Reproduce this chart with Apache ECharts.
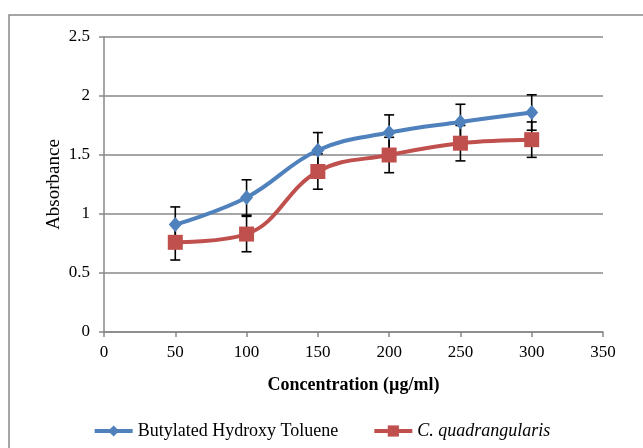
<!DOCTYPE html>
<html>
<head>
<meta charset="utf-8">
<script src="https://cdn.jsdelivr.net/npm/echarts@6/dist/echarts.min.js"></script>
<style>
  html, body { margin: 0; padding: 0; background: #fff; }
  #chart { width: 643px; height: 448px; }
</style>
</head>
<body>
<div id="chart"></div>
<script>
// concentrations (µg/ml)
const concentrations = [50, 100, 150, 200, 250, 300];
// absorbance values
const bhtValues = [0.91, 1.14, 1.54, 1.69, 1.78, 1.86];
const cqValues = [0.76, 0.83, 1.36, 1.50, 1.60, 1.63];
// error bar half-widths
const bhtErrors = [0.15, 0.15, 0.15, 0.15, 0.15, 0.15];
const cqErrors = [0.15, 0.15, 0.15, 0.15, 0.15, 0.15];

const seriesNames = ['Butylated Hydroxy Toluene', 'C. quadrangularis'];

const chart = echarts.init(document.getElementById('chart'));

function toPoints(vals) {
    return concentrations.map((c, i) => [c, vals[i]]);
}
function toErrors(vals, errs) {
    return concentrations.map((c, i) => [c, vals[i] - errs[i], vals[i] + errs[i]]);
}

function errorBar(params, api) {
    const low = api.coord([api.value(0), api.value(1)]);
    const high = api.coord([api.value(0), api.value(2)]);
    const w = 5;
    const style = { stroke: '#000', lineWidth: 1.6 };
    return {
        type: 'group',
        children: [
            { type: 'line', shape: { x1: low[0], y1: low[1], x2: high[0], y2: high[1] }, style },
            { type: 'line', shape: { x1: low[0] - w, y1: low[1], x2: low[0] + w, y2: low[1] }, style },
            { type: 'line', shape: { x1: high[0] - w, y1: high[1], x2: high[0] + w, y2: high[1] }, style }
        ]
    };
}

const font = '"Liberation Serif", "Times New Roman", serif';

chart.setOption({
    animation: false,
    textStyle: { fontFamily: font },
    graphic: [{
        type: 'rect',
        shape: { x: 9, y: 15, width: 700, height: 500 },
        style: { fill: 'none', stroke: '#888', lineWidth: 1.5 },
        silent: true
    }],
    grid: { left: 104, right: 40, top: 37, bottom: 116 },
    legend: {
        top: 417,
        left: 'center',
        itemGap: 34,
        itemWidth: 38,
        itemHeight: 14,
        lineStyle: { width: 4 },
        textStyle: {
            fontFamily: font,
            fontSize: 18,
            color: '#000',
            rich: { i: { fontStyle: 'italic', fontFamily: font, fontSize: 18, color: '#000' } }
        },
        formatter: function (name) {
            return name === seriesNames[1] ? '{i|' + name + '}' : name;
        },
        data: seriesNames
    },
    xAxis: {
        type: 'value',
        min: 0,
        max: 350,
        interval: 50,
        name: 'Concentration (µg/ml)',
        nameLocation: 'middle',
        nameGap: 44,
        nameMoveOverlap: false,
        nameTextStyle: { fontFamily: font, fontSize: 18, fontWeight: 'bold', color: '#000' },
        axisLine: { lineStyle: { color: '#888', width: 1.5 } },
        axisTick: { show: true, length: 5, lineStyle: { color: '#888', width: 1.5 } },
        axisLabel: { fontFamily: font, fontSize: 17, color: '#000', margin: 12 },
        splitLine: { show: false }
    },
    yAxis: {
        type: 'value',
        min: 0,
        max: 2.5,
        interval: 0.5,
        name: 'Absorbance',
        nameLocation: 'middle',
        nameGap: 40,
        nameMoveOverlap: false,
        nameTextStyle: { fontFamily: font, fontSize: 19, color: '#000' },
        axisLine: { show: true, lineStyle: { color: '#888', width: 1.5 } },
        axisTick: { show: true, length: 5, lineStyle: { color: '#888', width: 1.5 } },
        axisLabel: { fontFamily: font, fontSize: 17, color: '#000', margin: 14 },
        splitLine: { lineStyle: { color: '#888', width: 1.5 } }
    },
    series: [
        {
            name: seriesNames[0],
            type: 'line',
            smooth: 0.4,
            data: toPoints(bhtValues),
            symbol: 'diamond',
            symbolSize: [13, 15],
            itemStyle: { color: '#4F81BD' },
            lineStyle: { color: '#4F81BD', width: 4 },
            z: 3
        },
        {
            name: seriesNames[1],
            type: 'line',
            smooth: 0.4,
            data: toPoints(cqValues),
            symbol: 'rect',
            symbolSize: 15,
            itemStyle: { color: '#C0504D' },
            lineStyle: { color: '#C0504D', width: 4 },
            z: 3
        },
        {
            type: 'custom',
            renderItem: errorBar,
            data: toErrors(bhtValues, bhtErrors),
            encode: { x: 0, y: [1, 2] },
            z: 2,
            silent: true
        },
        {
            type: 'custom',
            renderItem: errorBar,
            data: toErrors(cqValues, cqErrors),
            encode: { x: 0, y: [1, 2] },
            z: 2,
            silent: true
        }
    ]
});
</script>
</body>
</html>
